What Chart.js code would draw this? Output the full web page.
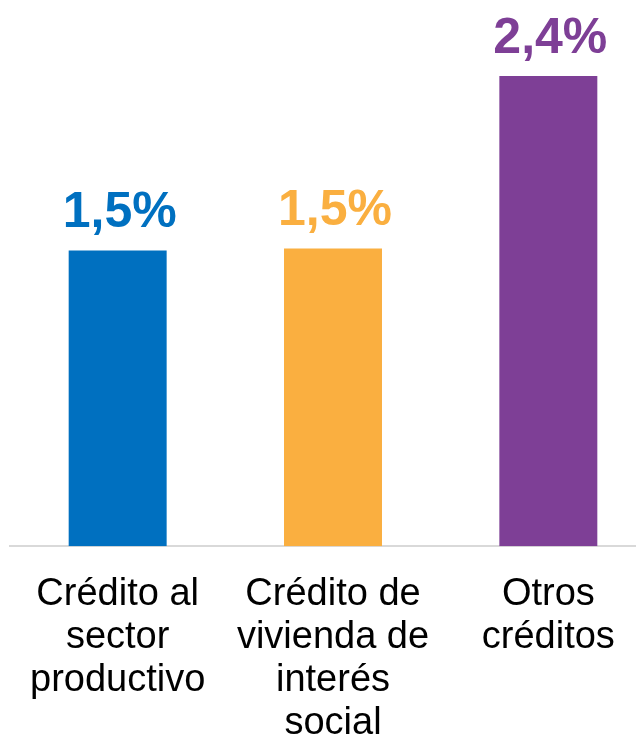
<!DOCTYPE html>
<html>
<head>
<meta charset="utf-8">
<script src="https://cdn.jsdelivr.net/npm/chart.js@4/dist/chart.umd.min.js"></script>
<style>
  html, body { margin: 0; padding: 0; background: #ffffff; overflow: hidden; }
  #wrap { width: 660px; height: 763px; }
</style>
</head>
<body>
<div id="wrap"><canvas id="bars" width="660" height="763"></canvas></div>
<script>
    /* --------------- Data  --------------------- */
    const categories = [
      ["Crédito al", "sector", "productivo"],
      ["Crédito de", "vivienda de", "interés", "social"],
      ["Otros", "créditos"],
    ];
    const values = [1.51, 1.52, 2.4];
    const barColors = ["#0070C0", "#FAAF40", "#7E3F96"];

    /* --------------- Value labels above the bars  --------------------- */
    const valueLabels = {
      id: "valueLabels",
      afterDatasetsDraw(chart) {
        const ctx = chart.ctx;
        const meta = chart.getDatasetMeta(0);
        ctx.save();
        ctx.font = "bold 50px 'Liberation Sans', Arial, sans-serif";
        ctx.textAlign = "center";
        ctx.textBaseline = "alphabetic";
        meta.data.forEach((bar, i) => {
          ctx.fillStyle = barColors[i];
          const txt = values[i].toFixed(1).replace(".", ",") + "%";
          ctx.fillText(txt, bar.x + 2, bar.y - 23.5);
        });
        ctx.restore();
      },
    };

    /* --------------- Chart --------------------- */
    const barChart = new Chart(document.getElementById("bars"), {
      type: "bar",
      plugins: [valueLabels],
      data: {
        labels: categories,
        datasets: [
          {
            data: values,
            backgroundColor: barColors,
            borderWidth: 0,
            categoryPercentage: 1,
            barPercentage: 0.455,
          },
        ],
      },
      options: {
        responsive: false,
        animation: false,
        layout: { padding: { left: 10, right: 4, top: 76, bottom: 0 } },
        plugins: {
          legend: { display: false },
          tooltip: { enabled: false },
        },
        scales: {
          x: {
            grid: { display: false },
            border: { display: true, color: "#D9D9D9", width: 2 },
            ticks: {
              color: "#000000",
              padding: 18.5,
              maxRotation: 0,
              autoSkip: false,
              font: { family: "'Liberation Sans', Arial, sans-serif", size: 38, lineHeight: 1.13 },
            },
          },
          y: {
            display: false,
            min: 0,
            max: 2.4,
          },
        },
      },
    });
</script>
</body>
</html>
